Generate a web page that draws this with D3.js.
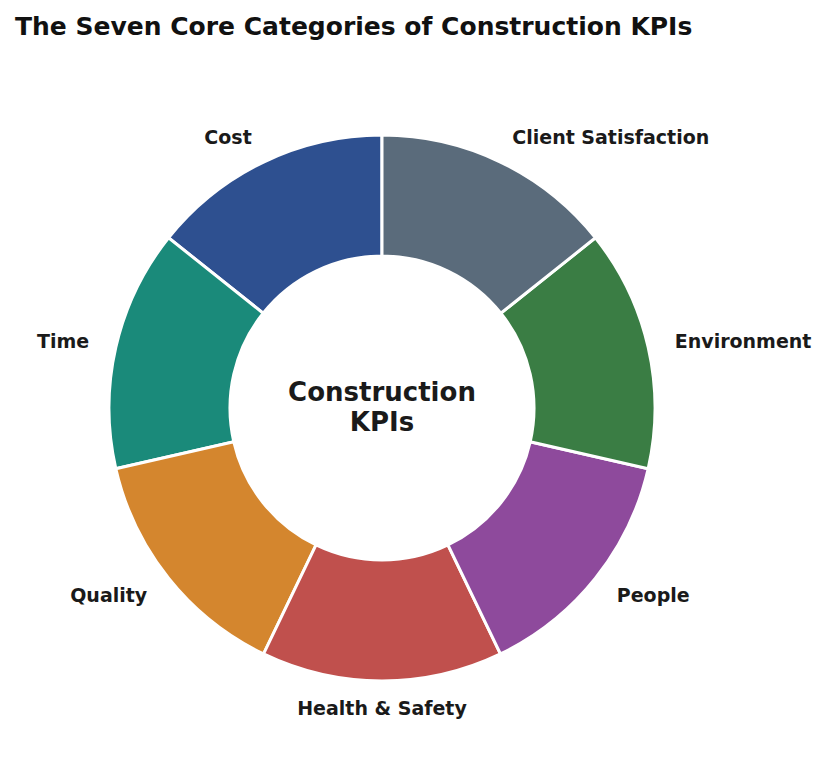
<!DOCTYPE html>
<html><head><meta charset="utf-8">
<script src="https://cdn.jsdelivr.net/npm/d3@7"></script>
<style>body{margin:0;background:#fff;font-family:"DejaVu Sans",sans-serif;}</style>
</head><body>
<svg id="c" width="840" height="765"></svg>
<script>
const categories = ["Cost","Time","Quality","Health & Safety","People","Environment","Client Satisfaction"];
const values = [1,1,1,1,1,1,1];
const colors = ["#2e5090","#1a8a7a","#d4862e","#c0504d","#8e4a9c","#3a7d44","#5a6b7b"];

const svg = d3.select("#c");
svg.append("text").attr("x",15).attr("y",35).attr("font-size",25).attr("font-weight","bold")
  .attr("fill","#111").text("The Seven Core Categories of Construction KPIs");

const cx=382, cy=408, R=273, r=152;
const g = svg.append("g").attr("transform",`translate(${cx},${cy})`);
// counter-clockwise from top: d3 angles measured clockwise from 12 o'clock
const pie = d3.pie().sort(null).value(d=>d).startAngle(0).endAngle(-2*Math.PI);
const arcs = pie(values);
const arc = d3.arc().innerRadius(r).outerRadius(R);
g.selectAll("path").data(arcs).join("path").attr("d",arc)
  .attr("fill",(d,i)=>colors[i]).attr("stroke","#fff").attr("stroke-width",3);

g.selectAll("text.lab").data(arcs).join("text").attr("class","lab")
  .each(function(d,i){
    const a=(d.startAngle+d.endAngle)/2;
    const x=1.1*R*Math.sin(a), y=-1.1*R*Math.cos(a);
    d3.select(this).attr("x",x).attr("y",y).attr("dy","0.35em")
      .attr("text-anchor", Math.abs(x)<1?"middle":(x<0?"end":"start"))
      .attr("font-size",19).attr("font-weight","bold").attr("fill","#1a1a1a")
      .text(categories[i]);
  });

const ct = g.append("text").attr("text-anchor","middle").attr("font-size",26)
  .attr("font-weight","bold").attr("fill","#1a1a1a");
ct.append("tspan").attr("x",0).attr("y",-7).text("Construction");
ct.append("tspan").attr("x",0).attr("y",23).text("KPIs");
</script>
</body></html>
